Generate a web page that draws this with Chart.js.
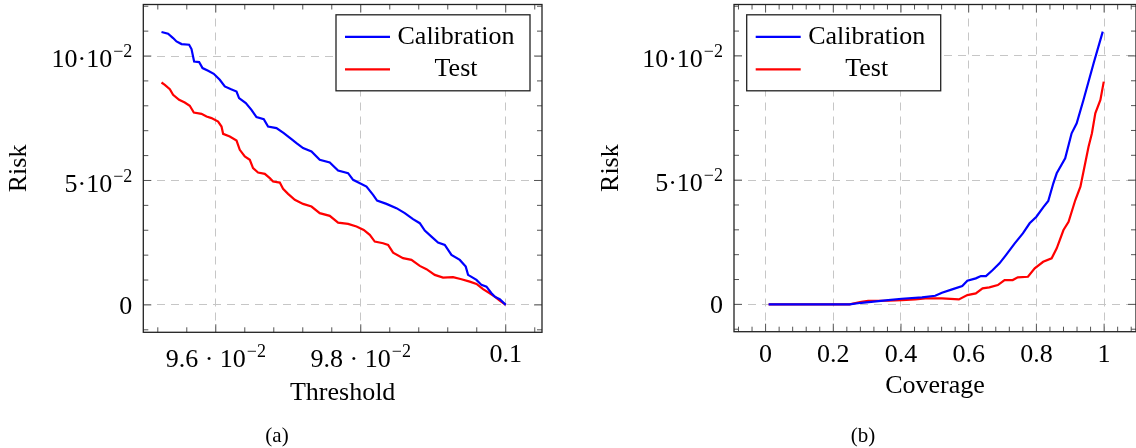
<!DOCTYPE html>
<html>
<head>
<meta charset="utf-8">
<script src="https://cdn.jsdelivr.net/npm/chart.js@4.4.1/dist/chart.umd.min.js"></script>
<style>
  html, body { margin: 0; padding: 0; background: #fff; }
  #wrap { position: relative; width: 1136px; height: 448px; overflow: hidden; }
  canvas { position: absolute; top: 0; }
  #ca { left: 0; }
  #cb { left: 568px; }
  .cap { position: absolute; top: 425px; font: 21px "Liberation Serif", serif; line-height: 21px; transform: translateX(-50%); }
</style>
</head>
<body>
<div id="wrap">
  <canvas id="ca" width="568" height="448"></canvas>
  <canvas id="cb" width="568" height="448"></canvas>
  <div class="cap" style="left:277px">(a)</div>
  <div class="cap" style="left:863px">(b)</div>
</div>
<script>
// ---- data ----
const seriesNames = ['Calibration', 'Test'];

// (a) risk vs threshold
const threshCalX = [0.095251,0.095342,0.095411,0.095458,0.095527,0.095632,0.095665,0.095701,0.095770,0.095817,0.095894,0.095972,0.096055,0.096124,0.096203,0.096286,0.096321,0.096414,0.096492,0.096561,0.096662,0.096721,0.096837,0.096938,0.097044,0.097113,0.097204,0.097320,0.097434,0.097572,0.097687,0.097825,0.097894,0.098079,0.098170,0.098225,0.098354,0.098492,0.098607,0.098721,0.098814,0.098883,0.098975,0.099066,0.099159,0.099251,0.099366,0.099448,0.099480,0.099596,0.099665,0.099734,0.099803,0.099848,0.099917,0.1];
const threshCalY = [0.10963,0.10894,0.10721,0.10585,0.10480,0.10452,0.10279,0.09781,0.09757,0.09515,0.09407,0.09286,0.09045,0.08776,0.08671,0.08575,0.08309,0.08108,0.07839,0.07546,0.07465,0.07168,0.07103,0.06902,0.06661,0.06500,0.06299,0.06163,0.05829,0.05720,0.05399,0.05294,0.05025,0.04756,0.04422,0.04193,0.04060,0.03887,0.03686,0.03445,0.03284,0.02987,0.02746,0.02504,0.02412,0.02010,0.01809,0.01540,0.01206,0.01005,0.00804,0.00736,0.00470,0.00334,0.00229,0];
const threshTestX = [0.095251,0.095297,0.095366,0.095411,0.095494,0.095572,0.095641,0.095697,0.095803,0.095872,0.095941,0.096032,0.096079,0.096101,0.096193,0.096286,0.096331,0.096400,0.096469,0.096514,0.096583,0.096676,0.096745,0.096790,0.096883,0.096928,0.096997,0.097090,0.097204,0.097320,0.097434,0.097572,0.097687,0.097825,0.097941,0.098041,0.098124,0.098193,0.098308,0.098377,0.098446,0.098583,0.098699,0.098814,0.098906,0.099021,0.099135,0.099273,0.099389,0.099503,0.099596,0.099687,0.099779,0.099848,0.099917,0.1];
const threshTestY = [0.08937,0.08844,0.08671,0.08442,0.08241,0.08132,0.08000,0.07730,0.07678,0.07570,0.07505,0.07369,0.07168,0.06874,0.06766,0.06605,0.06231,0.05962,0.05829,0.05495,0.05318,0.05266,0.05093,0.04957,0.04916,0.04663,0.04462,0.04221,0.04060,0.03952,0.03686,0.03578,0.03308,0.03256,0.03148,0.03015,0.02814,0.02545,0.02480,0.02412,0.02102,0.01877,0.01809,0.01568,0.01435,0.01206,0.01097,0.01114,0.01033,0.00937,0.00844,0.00631,0.00470,0.00334,0.00173,0];

// (b) risk vs coverage
const covCalX = [0.009,0.248,0.283,0.362,0.402,0.462,0.501,0.521,0.551,0.581,0.596,0.621,0.636,0.651,0.671,0.691,0.710,0.736,0.760,0.780,0.800,0.820,0.835,0.850,0.860,0.885,0.904,0.919,0.939,0.969,0.996];
const covCalY = [0,0,0.00064,0.00173,0.00226,0.00282,0.00346,0.00467,0.00604,0.00737,0.00950,0.01047,0.01140,0.01140,0.01381,0.01651,0.01985,0.02456,0.02859,0.03262,0.03528,0.03906,0.04160,0.04873,0.05275,0.05879,0.06886,0.07289,0.08227,0.09705,0.10978];
const covTestX = [0.009,0.248,0.283,0.303,0.362,0.402,0.442,0.472,0.521,0.571,0.596,0.621,0.641,0.661,0.686,0.706,0.730,0.745,0.775,0.795,0.820,0.845,0.860,0.880,0.895,0.915,0.930,0.939,0.954,0.964,0.974,0.989,0.999];
const covTestY = [0,0,0.00105,0.00145,0.00145,0.00173,0.00201,0.00242,0.00242,0.00201,0.00375,0.00443,0.00644,0.00685,0.00777,0.00979,0.00979,0.01087,0.01111,0.01450,0.01715,0.01852,0.02255,0.02992,0.03326,0.04200,0.04736,0.05340,0.06347,0.06886,0.07692,0.08227,0.08964];

// ticks ("^" starts the superscript)
const riskTicks = [0, 0.05, 0.1];
const riskTickLabels = ['0', '5·10^−2', '10·10^−2'];
const threshTicks = [0.096, 0.098, 0.1];
const threshTickLabels = ['9.6 · 10^−2', '9.8 · 10^−2', '0.1'];
const covTicks = [0, 0.2, 0.4, 0.6, 0.8, 1];
const covTickLabels = ['0', '0.2', '0.4', '0.6', '0.8', '1'];

const SERIF = '"Liberation Serif", "Times New Roman", serif';
const MAIN = 26, SUP = 18, SUP_RAISE = 10;
const MAIN_ASC = 17.6, SUP_ASC = 12.2;

function pts(xs, ys) { return xs.map((x, i) => ({ x: x, y: ys[i] })); }

function labelBox(ctx, str) {
  const [main, sup] = str.split('^');
  ctx.font = MAIN + 'px ' + SERIF;
  const wm = ctx.measureText(main).width;
  let ws = 0;
  if (sup) { ctx.font = SUP + 'px ' + SERIF; ws = ctx.measureText(sup).width + 1; }
  return { main, sup, wm, ws, w: wm + ws, asc: sup ? Math.max(MAIN_ASC, SUP_RAISE + SUP_ASC) : MAIN_ASC };
}

function drawLabel(ctx, b, left, base) {
  ctx.fillStyle = '#000';
  ctx.textAlign = 'left';
  ctx.textBaseline = 'alphabetic';
  ctx.font = MAIN + 'px ' + SERIF;
  ctx.fillText(b.main, left, base);
  if (b.sup) {
    ctx.font = SUP + 'px ' + SERIF;
    ctx.fillText(b.sup, left + b.wm + 1, base - SUP_RAISE);
  }
}

// frame, inward ticks, tick labels and boxed legend, pgfplots style
const pgfPlugin = {
  id: 'pgf',
  afterDatasetsDraw(chart, args, o) {
    const ctx = chart.ctx, a = chart.chartArea;
    const xs = chart.scales.x, ys = chart.scales.y;
    ctx.save();
    ctx.strokeStyle = '#555';
    ctx.lineWidth = 1;
    function ticks(scale, step, majors, horiz) {
      const vals = [];
      for (let v = Math.ceil(scale.min / step) * step; v <= scale.max + 1e-12; v += step) vals.push(v);
      vals.forEach(v => {
        const major = majors.some(m => Math.abs(m - v) < step / 10);
        const len = major ? 8 : 5;
        const p = scale.getPixelForValue(v);
        ctx.beginPath();
        if (horiz) {
          ctx.moveTo(p, a.bottom); ctx.lineTo(p, a.bottom - len);
          ctx.moveTo(p, a.top); ctx.lineTo(p, a.top + len);
        } else {
          ctx.moveTo(a.left, p); ctx.lineTo(a.left + len, p);
          ctx.moveTo(a.right, p); ctx.lineTo(a.right - len, p);
        }
        ctx.stroke();
      });
    }
    ticks(xs, o.xMinor, o.xTicks, true);
    ticks(ys, o.yMinor, o.yTicks, false);

    ctx.strokeStyle = '#222';
    ctx.lineWidth = 1.3;
    ctx.strokeRect(a.left, a.top, a.right - a.left, a.bottom - a.top);

    o.xTicks.forEach((v, i) => {
      const b = labelBox(ctx, o.xLabels[i]);
      const p = xs.getPixelForValue(v);
      drawLabel(ctx, b, p - b.w / 2, a.bottom + 12.2 + b.asc);
    });
    o.yTicks.forEach((v, i) => {
      const b = labelBox(ctx, o.yLabels[i]);
      const p = ys.getPixelForValue(v);
      drawLabel(ctx, b, a.left - 11 - b.w, p + b.asc / 2);
    });
    ctx.restore();
  },
  afterDraw(chart, args, o) {
    const ctx = chart.ctx, a = chart.chartArea;
    const bw = 194, bh = 76;
    const bx = o.legendSide === 'right' ? a.right - 12 - bw : a.left + 12.7;
    const by = a.top + 10.3;
    ctx.save();
    ctx.fillStyle = '#fff';
    ctx.fillRect(bx, by, bw, bh);
    ctx.strokeStyle = '#222';
    ctx.lineWidth = 1.3;
    ctx.strokeRect(bx, by, bw, bh);
    chart.data.datasets.forEach((ds, i) => {
      const cy = by + 22 + i * 32.5;
      ctx.strokeStyle = ds.borderColor;
      ctx.lineWidth = 2.2;
      ctx.beginPath();
      ctx.moveTo(bx + 9, cy); ctx.lineTo(bx + 54, cy);
      ctx.stroke();
      ctx.fillStyle = '#000';
      ctx.font = MAIN + 'px ' + SERIF;
      ctx.textAlign = 'center';
      ctx.textBaseline = 'alphabetic';
      ctx.fillText(ds.label, bx + 120, cy + 7);
    });
    ctx.restore();
  }
};

function axis(min, max, tickVals, title, titlePad, size, isY) {
  return {
    type: 'linear',
    min: min, max: max,
    afterBuildTicks: s => { s.ticks = tickVals.map(v => ({ value: v })); },
    afterFit: s => { if (isY) s.width = size; else s.height = size; },
    ticks: { display: false },
    grid: { color: '#c6c6c6', lineWidth: 1, drawTicks: false },
    border: { display: false, dash: [8, 6] },
    title: { display: true, text: title, color: '#000', font: { family: SERIF, size: MAIN }, padding: titlePad }
  };
}

function makeChart(id, sets, xCfg, yCfg, pad, pgf) {
  return new Chart(document.getElementById(id), {
    type: 'line',
    data: {
      datasets: sets.map((s, i) => ({
        label: seriesNames[i],
        data: s,
        borderColor: i === 0 ? '#0000ff' : '#ff0000',
        borderWidth: 2.2,
        pointRadius: 0,
        tension: 0,
        fill: false
      }))
    },
    options: {
      responsive: false,
      animation: false,
      devicePixelRatio: 1,
      layout: { padding: pad },
      scales: { x: xCfg, y: yCfg },
      plugins: { legend: { display: false }, tooltip: { enabled: false }, pgf: pgf }
    },
    plugins: [pgfPlugin]
  });
}

makeChart('ca',
  [pts(threshCalX, threshCalY), pts(threshTestX, threshTestY)],
  axis(0.095, 0.1005, threshTicks, 'Threshold', { bottom: 39.4 }, 448 - 332.3, false),
  axis(-0.011, 0.1207, riskTicks, 'Risk', { top: 3.6 }, 143.3, true),
  { left: 0, right: 26, top: 4.5, bottom: 0 },
  { xMinor: 0.0004, yMinor: 0.01, xTicks: threshTicks, yTicks: riskTicks, xLabels: threshTickLabels, yLabels: riskTickLabels, legendSide: 'right' });

makeChart('cb',
  [pts(covCalX, covCalY), pts(covTestX, covTestY)],
  axis(-0.0933, 1.0942, covTicks, 'Coverage', { bottom: 46.4 }, 448 - 331.7, false),
  axis(-0.011, 0.1207, riskTicks, 'Risk', { top: 27.2 }, 166, true),
  { left: 0, right: 568 - 1132.3, top: 4.5, bottom: 0 },
  { xMinor: 0.04, yMinor: 0.01, xTicks: covTicks, yTicks: riskTicks, xLabels: covTickLabels, yLabels: riskTickLabels, legendSide: 'left' });
</script>
</body>
</html>
